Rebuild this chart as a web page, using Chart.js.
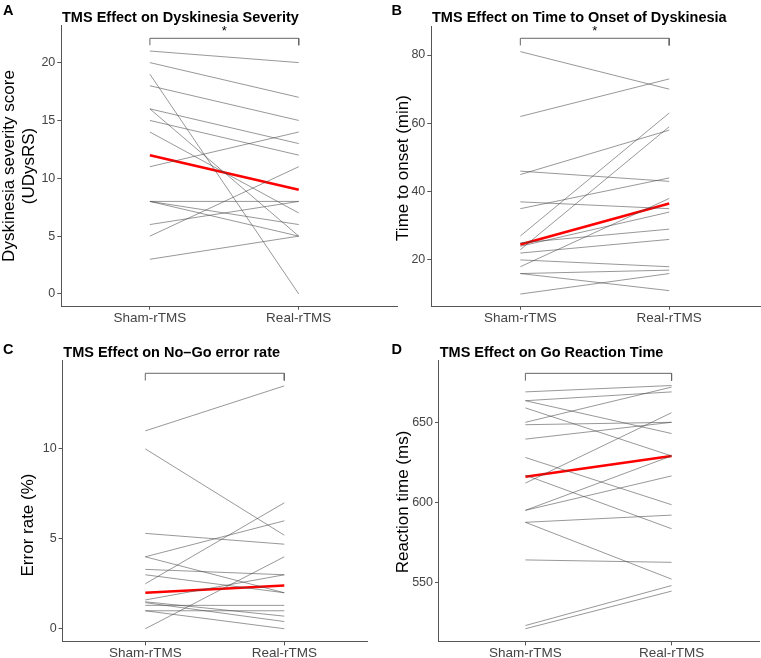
<!DOCTYPE html>
<html>
<head>
<meta charset="utf-8">
<script src="https://cdn.jsdelivr.net/npm/chart.js@4.4.1/dist/chart.umd.min.js"></script>
<style>
  html, body { margin: 0; padding: 0; background: #fff; overflow: hidden; }
  #wrap { position: relative; width: 761px; height: 658px; }
  canvas { position: absolute; }
</style>
</head>
<body>
<div id="wrap">
  <canvas id="panelA"></canvas>
  <canvas id="panelB"></canvas>
  <canvas id="panelC"></canvas>
  <canvas id="panelD"></canvas>
</div>
<script>
'use strict';

// ── Data ─────────────────────────────────────────────────────────
const conditions = ['Sham-rTMS', 'Real-rTMS'];

// A: dyskinesia severity (UDysRS)
const sevSham = [21, 20, 18, 19, 11, 5, 3, 16, 15, 14, 16, 8, 8, 8, 6];
const sevReal = [20, 17, 15, 0, 14, 11, 5, 13, 12, 7, 5, 8, 6, 5, 8];
const sevMean = [12, 9];
const sevTicks = [0, 5, 10, 15, 20];

// B: time to onset (min)
const onsetSham = [81, 62, 46, 45, 37, 35, 27, 23, 24, 25, 22, 18, 20, 16, 16, 10];
const onsetReal = [70, 73, 43, 58, 35, 44, 63, 59, 34, 29, 26, 38, 18, 17, 11, 16];
const onsetMean = [24.5, 36.5];
const onsetTicks = [20, 40, 60, 80];

// C: No-Go error rate (%)
const errSham = [11, 10, 5.3, 4, 4, 3.3, 3, 2.5, 0, 1.6, 1.5, 1.45, 1.3, 1.0, 1.0];
const errReal = [13.5, 5.2, 4.7, 6, 2, 3, 2, 7, 4, 3, 0.7, 0.4, 1.3, 1.0, 0];
const errMean = [2.0, 2.4];
const errTicks = [0, 5, 10];

// D: Go reaction time (ms)
const rtSham = [669, 663.5, 663.5, 659, 650, 648.5, 639.5, 628, 617, 612, 595, 595, 587.5, 587.5, 564, 523, 521];
const rtReal = [673, 669, 643, 629, 672, 650, 650, 598.5, 583.5, 656, 629, 616.5, 592, 552, 562.5, 548, 544.5];
const rtMean = [616, 629];
const rtTicks = [550, 600, 650];

// ── Helpers ──────────────────────────────────────────────────────
const FONT = '"Liberation Sans", Arial, Helvetica, sans-serif';
const AXIS = '#555';
const TICK_TEXT = '#444';

const panelText = {
  id: 'panelText',
  afterDraw(chart, args, o) {
    const { ctx, chartArea, scales } = chart;
    ctx.save();
    ctx.fillStyle = '#000';
    ctx.textAlign = 'left';
    ctx.textBaseline = 'alphabetic';
    ctx.font = `bold 14.5px ${FONT}`;
    ctx.fillText(o.letter, o.letterX, o.letterY);
    ctx.fillText(o.title, chartArea.left + 1, o.titleY);

    ctx.font = `17px ${FONT}`;
    ctx.textAlign = 'center';
    ctx.textBaseline = 'middle';
    o.yTitle.forEach((line, i) => {
      ctx.save();
      ctx.translate(o.yTitleX[i], o.yTitleY);
      ctx.rotate(-Math.PI / 2);
      ctx.fillText(line, 0, 0);
      ctx.restore();
    });

    if (o.star) {
      ctx.font = `13px ${FONT}`;
      ctx.textBaseline = 'alphabetic';
      ctx.fillText('*', scales.x.getPixelForValue(1.5), scales.y.getPixelForValue(o.bracket[1]) - 3);
    }
    ctx.restore();
  },
};

function makePanel(p) {
  const el = document.getElementById(p.id);
  el.width = p.w;
  el.height = p.h;
  el.style.left = p.left + 'px';
  el.style.top = p.top + 'px';

  const datasets = p.sham.map((s, i) => ({
    data: [{ x: 1, y: s }, { x: 2, y: p.real[i] }],
    borderColor: 'rgba(70,70,70,0.7)',
    borderWidth: 0.8,
  }));
  datasets.push({
    data: [{ x: 1, y: p.mean[0] }, { x: 2, y: p.mean[1] }],
    borderColor: '#ff0000',
    borderWidth: 2.6,
  });
  // significance bracket
  datasets.push({
    data: [
      { x: 1, y: p.bracket[0] }, { x: 1, y: p.bracket[1] },
      { x: 2, y: p.bracket[1] }, { x: 2, y: p.bracket[0] },
    ],
    borderColor: '#666',
    borderWidth: 1,
  });

  const a = p.area;
  return new Chart(el.getContext('2d'), {
    type: 'scatter',
    data: { datasets: datasets.map((d) => ({ ...d, showLine: true, pointRadius: 0, tension: 0 })) },
    options: {
      responsive: false,
      animation: false,
      layout: { padding: { left: 0, top: a.t, right: p.w - a.r, bottom: 0 } },
      plugins: {
        legend: { display: false },
        tooltip: { enabled: false },
        panelText: p.text,
      },
      scales: {
        x: {
          type: 'linear',
          min: p.xMin,
          max: p.xMax,
          afterBuildTicks: (s) => { s.ticks = [{ value: 1 }, { value: 2 }]; },
          afterFit: (s) => { s.height = p.h - a.b; },
          ticks: {
            color: TICK_TEXT,
            font: { family: FONT, size: 13.5 },
            padding: 0,
            callback: (v) => conditions[v - 1],
          },
          grid: { drawOnChartArea: false, drawTicks: true, tickLength: 3.7, color: AXIS },
          border: { display: true, color: AXIS, width: 1 },
        },
        y: {
          type: 'linear',
          min: p.yMin,
          max: p.yMax,
          afterBuildTicks: (s) => { s.ticks = p.ticks.map((v) => ({ value: v })); },
          afterFit: (s) => { s.width = a.l; },
          ticks: {
            color: TICK_TEXT,
            font: { family: FONT, size: 12.5 },
            padding: 2,
          },
          grid: { drawOnChartArea: false, drawTicks: true, tickLength: 3.7, color: AXIS },
          border: { display: true, color: AXIS, width: 1 },
        },
      },
    },
    plugins: [panelText],
  });
}

// ── Panels ───────────────────────────────────────────────────────
makePanel({
  id: 'panelA', left: 0, top: 0, w: 400, h: 330,
  area: { l: 61, t: 25, r: 397, b: 306 },
  sham: sevSham, real: sevReal, mean: sevMean, ticks: sevTicks,
  yMin: -1.04, yMax: 23.25, xMin: 0.403, xMax: 2.66,
  bracket: [21.5, 22.1],
  text: {
    letter: 'A', letterX: 3, letterY: 15, title: 'TMS Effect on Dyskinesia Severity', titleY: 21.5,
    yTitle: ['Dyskinesia severity score', '(UDysRS)'], yTitleX: [9.5, 29.5], yTitleY: 166,
    star: true, bracket: [21.5, 22.1],
  },
});

makePanel({
  id: 'panelB', left: 380, top: 0, w: 381, h: 330,
  area: { l: 51, t: 26, r: 380, b: 306 },
  sham: onsetSham, real: onsetReal, mean: onsetMean, ticks: onsetTicks,
  yMin: 6.5, yMax: 88.5, xMin: 0.4, xMax: 2.61,
  bracket: [82.8, 84.9],
  text: {
    letter: 'B', letterX: 11.5, letterY: 15, title: 'TMS Effect on Time to Onset of Dyskinesia', titleY: 21.5,
    yTitle: ['Time to onset (min)'], yTitleX: [23], yTitleY: 168,
    star: true, bracket: [82.8, 84.9],
  },
});

makePanel({
  id: 'panelC', left: 0, top: 330, w: 380, h: 335,
  area: { l: 62.3, t: 30.7, r: 367.7, b: 311.7 },
  sham: errSham, real: errReal, mean: errMean, ticks: errTicks,
  yMin: -0.72, yMax: 14.9, xMin: 0.403, xMax: 2.6,
  bracket: [13.8, 14.2],
  text: {
    letter: 'C', letterX: 3, letterY: 24, title: 'TMS Effect on No\u2013Go error rate', titleY: 26.7,
    yTitle: ['Error rate (%)'], yTitleX: [28], yTitleY: 195,
    star: false,
  },
});

makePanel({
  id: 'panelD', left: 380, top: 330, w: 381, h: 335,
  area: { l: 58.7, t: 30.7, r: 379.3, b: 311.7 },
  sham: rtSham, real: rtReal, mean: rtMean, ticks: rtTicks,
  yMin: 512.9, yMax: 688.5, xMin: 0.407, xMax: 2.6,
  bracket: [676, 680.6],
  text: {
    letter: 'D', letterX: 11.5, letterY: 24, title: 'TMS Effect on Go Reaction Time', titleY: 26.7,
    yTitle: ['Reaction time (ms)'], yTitleX: [23.5], yTitleY: 172,
    star: false,
  },
});
</script>
</body>
</html>
